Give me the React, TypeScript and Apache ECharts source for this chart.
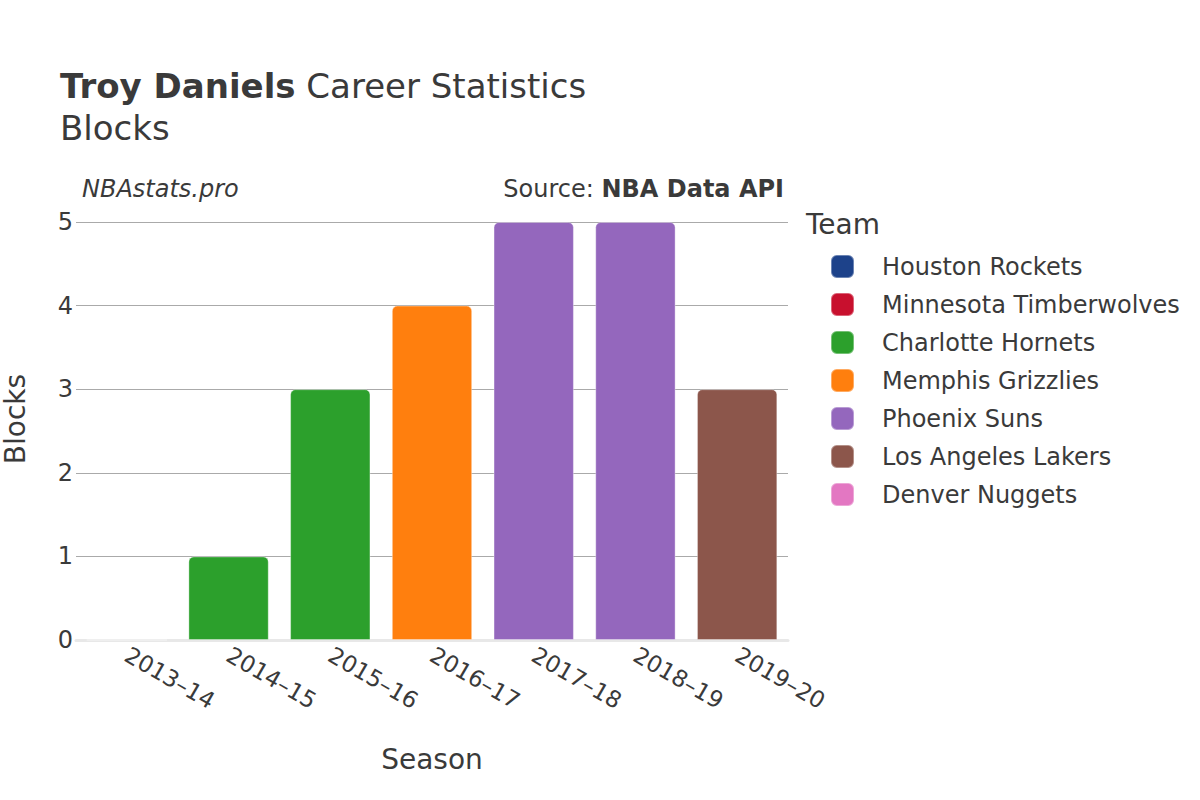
import React, { useEffect, useRef } from "react";
import * as echarts from "echarts";

const seasons = ["2013–14", "2014–15", "2015–16", "2016–17", "2017–18", "2018–19", "2019–20"];
const teams = [
  "Houston Rockets",
  "Minnesota Timberwolves",
  "Charlotte Hornets",
  "Memphis Grizzlies",
  "Phoenix Suns",
  "Los Angeles Lakers",
  "Denver Nuggets",
];
const teamColors = ["#1d428a", "#c8102e", "#2ca02c", "#ff7f0e", "#9467bd", "#8c564b", "#e377c2"];
// blocks per team per season (null = did not play for that team)
const houstonBlocks = [0, null, null, null, null, null, null];
const minnesotaBlocks = [null, null, null, null, null, null, null];
const charlotteBlocks = [null, 1, 3, null, null, null, null];
const memphisBlocks = [null, null, null, 4, null, null, null];
const phoenixBlocks = [null, null, null, null, 5, 5, null];
const lakersBlocks = [null, null, null, null, null, null, 3];
const denverBlocks = [null, null, null, null, null, null, null];
const teamValues = [houstonBlocks, minnesotaBlocks, charlotteBlocks, memphisBlocks, phoenixBlocks, lakersBlocks, denverBlocks];
const yTicks = [0, 1, 2, 3, 4, 5];

const FONT = "DejaVu Sans";
const TXT = "#3a3a3a";

export default function App() {
  const ref = useRef<HTMLDivElement>(null);
  useEffect(() => {
    if (!ref.current) return;
    const chart = echarts.init(ref.current, undefined, { renderer: "svg" });
    const option: any = {
      animation: false,
      backgroundColor: "#fff",
      textStyle: { fontFamily: FONT },
      grid: { left: 76, right: 412, top: 222, bottom: 160, containLabel: false, outerBoundsMode: "none" },
      xAxis: {
        type: "category",
        data: seasons,
        axisLine: { show: true, lineStyle: { color: "#e8e8e8", width: 3 } },
        axisTick: { show: false },
        axisLabel: {
          rotate: -30,
          color: TXT,
          fontSize: 23,
          fontFamily: FONT,
          margin: 13,
          interval: 0,
        },
        name: "Season",
        nameLocation: "middle",
        nameGap: 105,
        nameTextStyle: { color: TXT, fontSize: 28, fontFamily: FONT },
      },
      yAxis: {
        type: "value",
        min: yTicks[0],
        max: yTicks[yTicks.length - 1],
        interval: 1,
        axisLine: { show: false },
        axisTick: { show: false },
        splitLine: { lineStyle: { color: "#aaaaaa", width: 1 } },
        axisLabel: { color: TXT, fontSize: 24, fontFamily: FONT, margin: 3 },
        name: "Blocks",
        nameLocation: "middle",
        nameGap: 47,
        nameTextStyle: { color: TXT, fontSize: 28, fontFamily: FONT, padding: [0, 0, 0, 24] },
      },
      legend: {
        orient: "vertical",
        left: 830,
        top: 254,
        padding: 0,
        itemWidth: 23,
        itemHeight: 23,
        itemGap: 13,
        icon: "roundRect",
        data: teams,
        textStyle: { color: TXT, fontSize: 24, lineHeight: 23, fontFamily: FONT, padding: [0, 0, 0, 23] },
      },
      graphic: [
        {
          type: "text",
          left: 60,
          top: 69,
          style: {
            text: "{b|Troy Daniels}{n|\u00a0Career Statistics}",
            rich: {
              b: { fontSize: 34, fontWeight: "bold", fill: TXT, fontFamily: FONT },
              n: { fontSize: 34, fill: TXT, fontFamily: FONT },
            },
          },
        },
        {
          type: "text",
          left: 60,
          top: 111,
          style: { text: "Blocks", fontSize: 34, fill: TXT, fontFamily: FONT },
        },
        {
          type: "text",
          left: 82,
          top: 177,
          style: { text: "NBAstats.pro", fontSize: 24, fontStyle: "italic", fill: TXT, fontFamily: FONT },
        },
        {
          type: "text",
          right: 416,
          top: 177,
          style: {
            text: "{n|Source:\u00a0}{b|NBA Data API}",
            rich: {
              n: { fontSize: 24, fill: TXT, fontFamily: FONT },
              b: { fontSize: 24, fontWeight: "bold", fill: TXT, fontFamily: FONT },
            },
          },
        },
        {
          type: "text",
          left: 806,
          top: 210,
          style: { text: "Team", fontSize: 28, fill: TXT, fontFamily: FONT },
        },
      ],
      series: teams.map((t, i) => ({
        name: t,
        type: "bar",
        stack: "total",
        barCategoryGap: "21%",
        data: teamValues[i],
        itemStyle: {
          color: teamColors[i],
          borderRadius: [5, 5, 0, 0],
          borderColor: "rgba(255,255,255,0.35)",
          borderWidth: 1,
        },
      })),
    };
    chart.setOption(option);
    return () => chart.dispose();
  }, []);
  return <div ref={ref} style={{ width: 1200, height: 800, position: "absolute", left: 0, top: 0 }} />;
}
